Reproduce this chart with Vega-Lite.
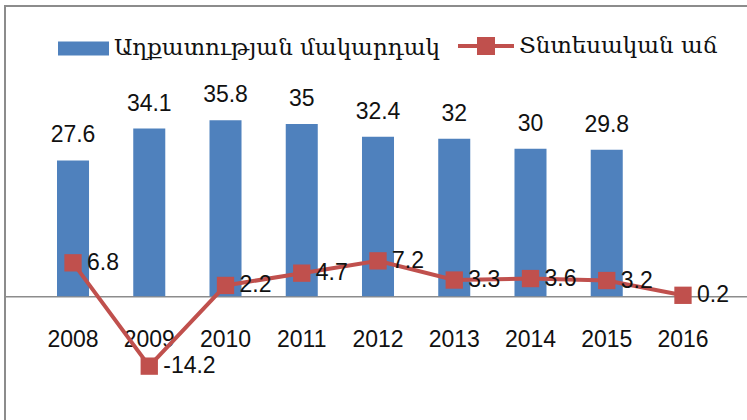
{
  "$schema": "https://vega.github.io/schema/vega-lite/v6.json",
  "width": 746,
  "height": 437.88,
  "autosize": "none",
  "padding": {"left": 5, "top": 6, "right": 0, "bottom": 0},
  "background": "white",
  "config": {
    "view": {"stroke": "#8c8c8c", "strokeWidth": 2},
    "font": "Liberation Sans",
    "locale": {"number": {"decimal": ".", "thousands": ",", "grouping": [3], "currency": ["$", ""], "minus": "-"}}
  },
  "data": {
    "values": [
      {"year": "2008", "poverty": 27.6, "growth": 6.8},
      {"year": "2009", "poverty": 34.1, "growth": -14.2},
      {"year": "2010", "poverty": 35.8, "growth": 2.2},
      {"year": "2011", "poverty": 35, "growth": 4.7},
      {"year": "2012", "poverty": 32.4, "growth": 7.2},
      {"year": "2013", "poverty": 32, "growth": 3.3},
      {"year": "2014", "poverty": 30, "growth": 3.6},
      {"year": "2015", "poverty": 29.8, "growth": 3.2},
      {"year": "2016", "poverty": null, "growth": 0.2}
    ]
  },
  "encoding": {
    "x": {
      "field": "year",
      "type": "ordinal",
      "scale": {"paddingInner": 0.58, "paddingOuter": 0.682},
      "axis": {
        "title": null,
        "orient": "bottom",
        "offset": -147.6,
        "labelAngle": 0,
        "ticks": false,
        "domainColor": "#8c8c8c",
        "domainWidth": 1.5,
        "labelFont": "Liberation Sans",
        "labelFontSize": 23,
        "labelColor": "#111",
        "labelPadding": 32
      }
    }
  },
  "layer": [
    {
      "mark": {"type": "bar"},
      "transform": [{"filter": "datum.poverty != null"}],
      "encoding": {
        "y": {"field": "poverty", "type": "quantitative", "scale": {"domain": [-30, 59], "nice": false, "zero": false}, "axis": null},
        "fill": {
          "datum": "Աղքատության մակարդակ",
          "scale": {"range": ["#4f81bd"]},
          "legend": {
            "title": null,
            "orient": "none",
            "legendX": 53,
            "legendY": 17,
            "symbolType": "M-1,-0.275H1V0.275H-1Z",
            "symbolSize": 2601,
            "symbolStrokeWidth": 0,
            "labelFont": "DejaVu Serif",
            "labelFontSize": 23,
            "labelColor": "#111",
            "labelOffset": 5,
            "labelLimit": 0
          }
        }
      }
    },
    {
      "mark": {"type": "text", "baseline": "bottom", "dy": -13, "fontSize": 23, "font": "Liberation Sans", "color": "#111"},
      "transform": [{"filter": "datum.poverty != null"}],
      "encoding": {
        "y": {"field": "poverty", "type": "quantitative", "scale": {"domain": [-30, 59], "nice": false, "zero": false}, "axis": null},
        "text": {"field": "poverty", "type": "quantitative", "format": ".3~f"}
      }
    },
    {
      "mark": {"type": "line", "strokeWidth": 4},
      "encoding": {
        "y": {"field": "growth", "type": "quantitative", "scale": {"domain": [-30, 59], "nice": false, "zero": false}, "axis": null},
        "stroke": {
          "datum": "Տնտեսական աճ",
          "scale": {"range": ["#c0504d"]},
          "legend": {
            "title": null,
            "orient": "none",
            "legendX": 451,
            "legendY": 10,
            "symbolType": "M-1,0H1M-0.25,-0.25H0.25V0.25H-0.25Z",
            "symbolSize": 3136,
            "symbolStrokeWidth": 4,
            "symbolFillColor": "#c0504d",
            "labelFont": "DejaVu Serif",
            "labelFontSize": 23,
            "labelColor": "#111",
            "labelOffset": 3,
            "labelLimit": 0
          }
        }
      }
    },
    {
      "mark": {"type": "point", "shape": "square", "filled": true, "size": 300, "color": "#c0504d", "opacity": 1},
      "encoding": {
        "y": {"field": "growth", "type": "quantitative", "scale": {"domain": [-30, 59], "nice": false, "zero": false}, "axis": null}
      }
    },
    {
      "mark": {"type": "text", "align": "left", "baseline": "middle", "dx": 14, "fontSize": 23, "font": "Liberation Sans", "color": "#111"},
      "encoding": {
        "y": {"field": "growth", "type": "quantitative", "scale": {"domain": [-30, 59], "nice": false, "zero": false}, "axis": null},
        "text": {"field": "growth", "type": "quantitative", "format": ".3~f"}
      }
    }
  ]
}
